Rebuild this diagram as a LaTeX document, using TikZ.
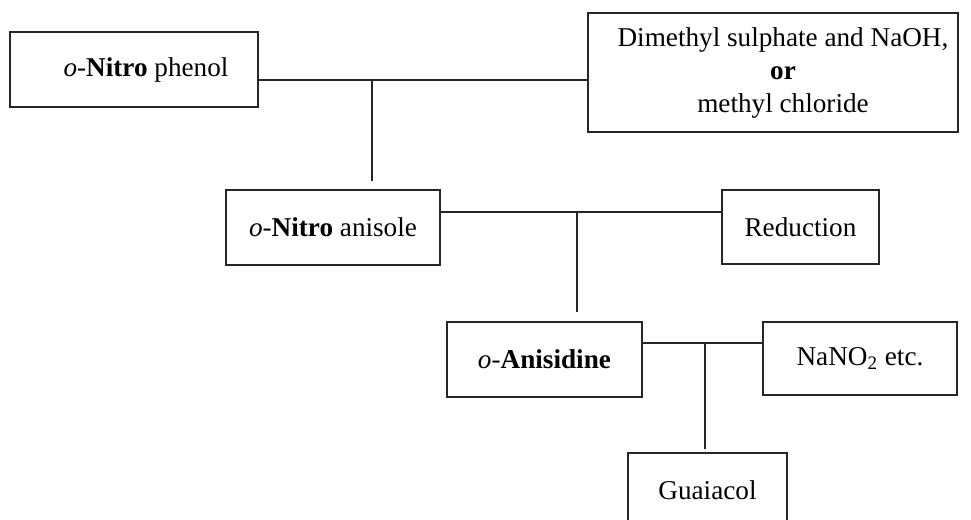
\documentclass[tikz,border=0pt]{standalone}
\usepackage{fontspec}
\setmainfont{Liberation Serif}

\begin{document}
\begin{tikzpicture}[x=0.5pt, y=-0.5pt,
        every node/.style={font={\fontsize{13.6}{16.5}\selectfont}},
        box/.style={draw=black!85, line width=0.6pt, align=center, inner sep=0pt},
        link/.style={draw=black!85, line width=0.6pt}]
        \clip (0,0) rectangle (971,520);
        % boxes
        \node[box, minimum width=124pt, minimum height=37.5pt] (phenol) at (134, 69.5) {\hspace*{12pt}\textit{o}-\textbf{Nitro} phenol};
        \node[box, minimum width=185pt, minimum height=59.5pt] (dimethyl) at (773, 72.5) {\hspace*{10pt}Dimethyl sulphate and NaOH,\\ \hspace*{10pt}\textbf{or}\\ \hspace*{10pt}methyl chloride};
        \node[box, minimum width=107pt, minimum height=37.5pt] (anisole) at (333, 227.5) {\textit{o}-\textbf{Nitro} anisole};
        \node[box, minimum width=78.5pt, minimum height=37pt] (reduction) at (800.5, 227) {Reduction};
        \node[box, minimum width=97.5pt, minimum height=37.5pt] (anisidine) at (544.5, 359.5) {\textit{o}-\textbf{Anisidine}};
        \node[box, minimum width=97pt, minimum height=36.5pt] (nitrite) at (860, 358.5) {NaNO\textsubscript{2} etc.};
        \node[box, minimum width=79.5pt, minimum height=37.5pt] (guaiacol) at (707.5, 490.5) {Guaiacol};
        % junctions
        \coordinate (j1) at (372, 80);
        \coordinate (j2) at (577, 212);
        \coordinate (j3) at (705, 343);
        % connectors
        \draw[link] (phenol.east |- j1) -- (dimethyl.west |- j1);
        \draw[link] (j1) -- ([yshift=4pt]j1 |- anisole.north);
        \draw[link] (anisole.east |- j2) -- (reduction.west |- j2);
        \draw[link] (j2) -- ([yshift=4.5pt]j2 |- anisidine.north);
        \draw[link] (anisidine.east |- j3) -- (nitrite.west |- j3);
        \draw[link] (j3) -- ([yshift=1.5pt]j3 |- guaiacol.north);
    \end{tikzpicture}
\end{document}
